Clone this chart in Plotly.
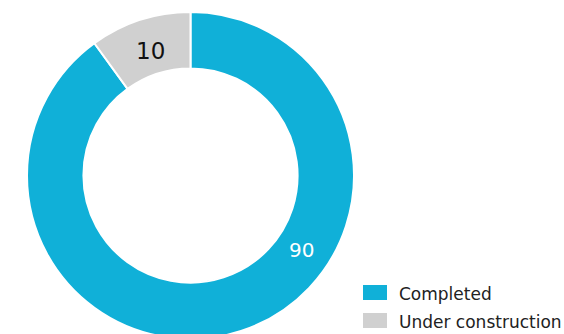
import math
import plotly.graph_objects as go

# Project status shares
categories = ["Completed", "Under construction"]
values = [90, 10]
colors = ["#10b0d8", "#d0d0d0"]
label_colors = ["#ffffff", "#111111"]

W, H = 564, 340
cx, cy, R = 190.5, 175.5, 163.5     # pie centre / outer radius in pixels
hole = 0.655
FONT = "DejaVu Sans"

fig = go.Figure(go.Pie(
    labels=categories,
    values=values,
    hole=hole,
    sort=False,
    direction="clockwise",
    rotation=0,
    marker=dict(colors=colors, line=dict(color="#ffffff", width=2)),
    textinfo="none",
    hoverinfo="label+value",
    showlegend=False,
    domain=dict(x=[(cx - R) / W, (cx + R) / W],
                y=[1 - (cy + R) / H, 1 - (cy - R) / H]),
))

def px_to_paper(x, y):
    return x / W, 1 - y / H

# value labels placed on the ring
total = sum(values)
mid_angles = []
start = 0.0
for v in values:
    mid_angles.append(start + 180.0 * v / total)
    start += 360.0 * v / total
label_angles = [123.75, mid_angles[1]]
label_radii = [134.0, 131.0]
label_sizes = [20, 23]

annotations = []
for val, ang, rad, col, sz in zip(values, label_angles, label_radii, label_colors, label_sizes):
    a = math.radians(ang)
    x, y = px_to_paper(cx + rad * math.sin(a), cy - rad * math.cos(a))
    annotations.append(dict(x=x, y=y, xref="paper", yref="paper", text=str(val),
                            showarrow=False, xanchor="center", yanchor="middle",
                            font=dict(family=FONT, size=sz, color=col)))

# legend drawn as swatches + text
shapes = []
leg_x0, leg_y0, sw_w, sw_h, row_gap = 363, 285, 24, 15, 28
for i, (cat, col) in enumerate(zip(categories, colors)):
    top = leg_y0 + i * row_gap
    x0, y0 = px_to_paper(leg_x0, top + sw_h)
    x1, y1 = px_to_paper(leg_x0 + sw_w, top)
    shapes.append(dict(type="rect", xref="paper", yref="paper", x0=x0, y0=y0, x1=x1, y1=y1,
                       fillcolor=col, line=dict(width=0)))
    tx, ty = px_to_paper(leg_x0 + sw_w + 10, top + sw_h / 2 + 1.5)
    annotations.append(dict(x=tx, y=ty, xref="paper", yref="paper", text=cat,
                            showarrow=False, xanchor="left", yanchor="middle",
                            font=dict(family=FONT, size=17, color="#222222")))

fig.update_layout(
    width=W, height=H,
    margin=dict(l=0, r=0, t=0, b=0),
    paper_bgcolor="#ffffff",
    plot_bgcolor="#ffffff",
    annotations=annotations,
    shapes=shapes,
)

fig.write_html("out.html", config={"displayModeBar": False},
               post_script="document.documentElement.style.overflow='hidden';document.body.style.overflow='hidden';")
